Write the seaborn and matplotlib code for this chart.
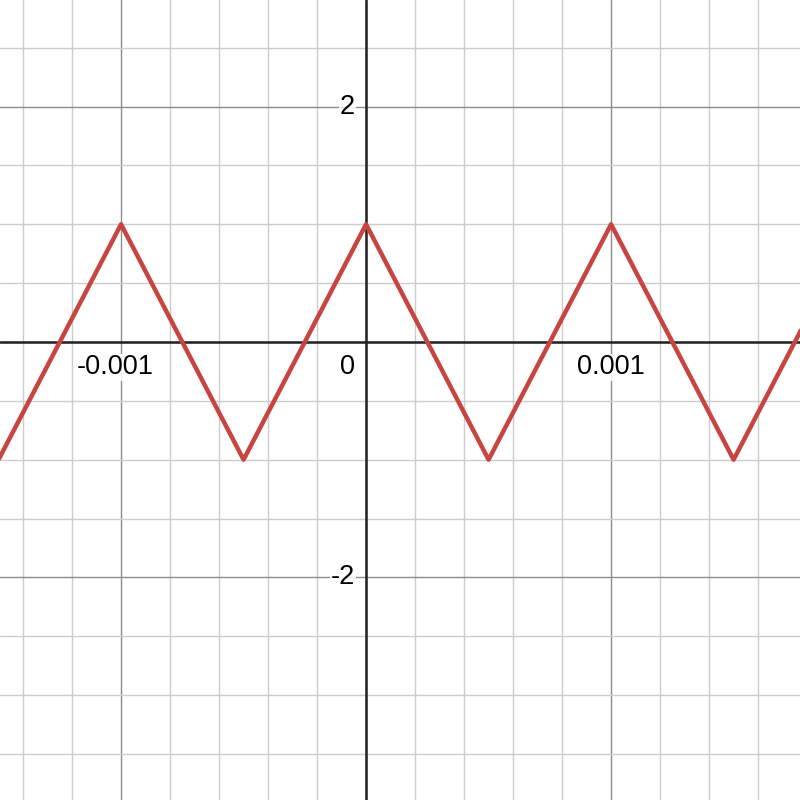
import matplotlib
matplotlib.use("Agg")
import numpy as np
import pandas as pd
import seaborn as sns
import matplotlib.pyplot as plt
from matplotlib.ticker import MultipleLocator

# Triangle wave vertices (period 0.001, amplitude 1)
x_vertices = [-0.0015, -0.001, -0.0005, 0.0, 0.0005, 0.001, 0.0015, 0.002]
y_vertices = [-1, 1, -1, 1, -1, 1, -1, 1]

x_tick_values = [-0.001, 0.001]
x_tick_labels = ["-0.001", "0.001"]
y_tick_values = [2, -2]
y_tick_labels = ["2", "-2"]

df = pd.DataFrame({"x": x_vertices, "y": y_vertices})

sns.set_style("white")
plt.rcParams["font.family"] = ["Liberation Sans", "DejaVu Sans"]

fig = plt.figure(figsize=(8, 8), dpi=100)
ax = fig.add_axes([0, 0, 1, 1])

# Grid
ax.xaxis.set_major_locator(MultipleLocator(0.001))
ax.xaxis.set_minor_locator(MultipleLocator(0.0002))
ax.yaxis.set_major_locator(MultipleLocator(2))
ax.yaxis.set_minor_locator(MultipleLocator(0.5))
ax.grid(which="minor", color="#cccccc", lw=1.0)
ax.grid(which="major", color="#8c8c8c", lw=1.0)
ax.set_axisbelow(True)
ax.tick_params(which="both", length=0, labelbottom=False, labelleft=False)
for s in ax.spines.values():
    s.set_visible(False)

# Axes lines
ax.axhline(0, color="#222222", lw=1.8, zorder=2)
ax.axvline(0, color="#222222", lw=1.8, zorder=2)

sns.lineplot(data=df, x="x", y="y", sort=False, color="#c74440", lw=3.2,
             solid_joinstyle="round", solid_capstyle="round", ax=ax, zorder=3)

ax.set_xlim(-0.001494, 0.001771)
ax.set_ylim(-3.892, 2.906)
ax.set_xlabel("")
ax.set_ylabel("")

box = dict(facecolor="white", edgecolor="none", pad=0.5, alpha=0.85)
for v, lab in zip(x_tick_values, x_tick_labels):
    dx = -4 if lab.startswith("-") else 0
    ax.annotate(lab, xy=(v, 0), xytext=(dx, -9), textcoords="offset points",
                ha="center", va="top", fontsize=19.5, color="black", bbox=box, zorder=4)
for v, lab in zip(y_tick_values, y_tick_labels):
    ax.annotate(lab, xy=(0, v), xytext=(-8, 0), textcoords="offset points",
                ha="right", va="center", fontsize=19.5, color="black", bbox=box, zorder=4)
ax.annotate("0", xy=(0, 0), xytext=(-8, -9), textcoords="offset points",
            ha="right", va="top", fontsize=19.5, color="black", bbox=box, zorder=4)

fig.savefig("out.png", dpi=100)
